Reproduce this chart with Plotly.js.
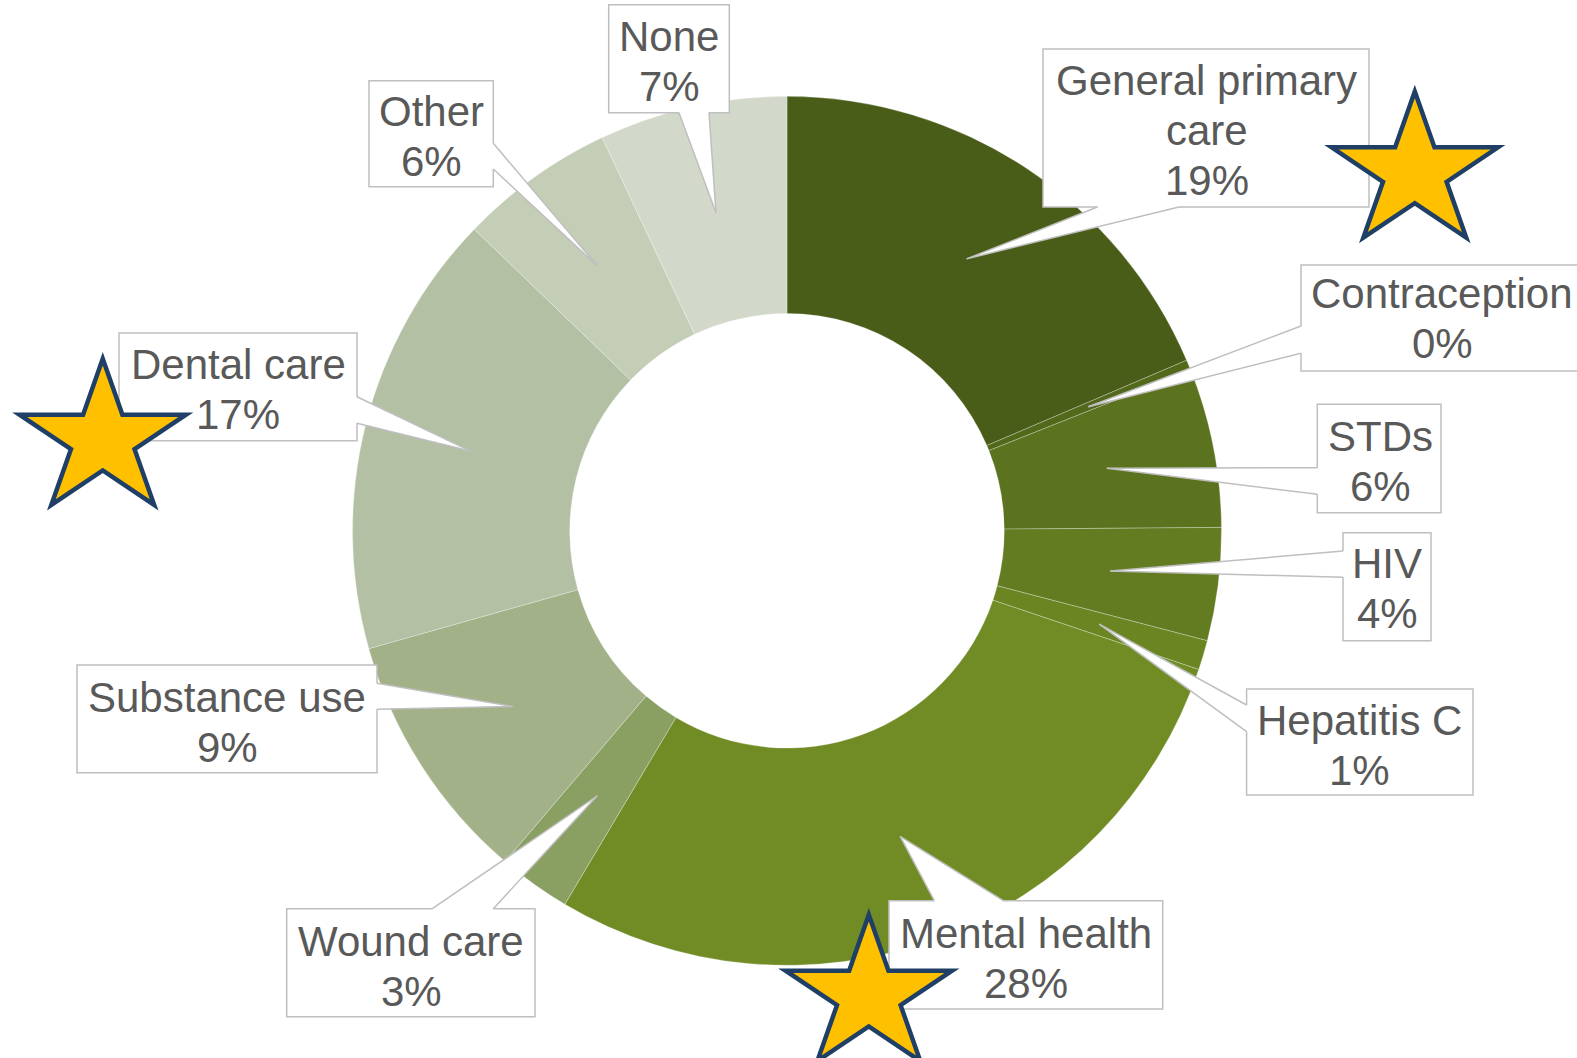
<!DOCTYPE html>
<html>
<head>
<meta charset="utf-8">
<script src="https://cdn.plot.ly/plotly-3.0.1.min.js"></script>
<style>
html,body{margin:0;padding:0;background:#ffffff;overflow:hidden}
#chart{width:1577px;height:1058px}
</style>
</head>
<body>
<div id="chart"></div>
<script>
// ---------- data ----------
const categories = ['General primary care','Contraception','STDs','HIV','Hepatitis C','Mental health','Wound care','Substance use','Dental care','Other','None'];
const shares = [18.6, 0.4, 5.9, 4.2, 1.1, 28.4, 2.7, 9.4, 16.6, 5.8, 7.0];
const sliceColors = ['#4a5d18','#52691b','#5b721f','#637b21','#6b8523','#718c25','#8a9f62','#a2b188','#b3c0a3','#c4cdb5','#d2d9ca'];
const starredCategories = ['General primary care','Dental care','Mental health'];

// ---------- layout geometry (pixels) ----------
const W = 1577, H = 1058;
const CX = 787, CY = 530.8, R = 434.5, HOLE = 0.5;
const FONT = 42, LINE = 50;

// label box [x0,y0,x1,y1], side where the pointer leaves, span of pointer base, text centre x, first baseline
const callouts = {
  'General primary care': {box:[1043,49,1369,207],   side:'bottom', span:[1097.5,1179], cx:1206.5, base:95,    wrap:true},
  'Contraception':        {box:[1301,265,1600,371],  side:'left',   span:[326,353.3],   cx:1442,   base:308.3},
  'STDs':                 {box:[1317.3,404.3,1441,512.7], side:'left', span:[467.7,494.3], cx:1380, base:451},
  'HIV':                  {box:[1343,532.7,1431,640.7],   side:'left', span:[551,577.3],   cx:1387, base:578.3},
  'Hepatitis C':          {box:[1246.6,689,1473,795],     side:'left', span:[705,731.7],   cx:1359.5, base:735},
  'Mental health':        {box:[889,900.7,1162.7,1009],   side:'top',  span:[934.3,1003.3], cx:1026, base:947.7},
  'Wound care':           {box:[286.7,908.7,535,1016.7],  side:'top',  span:[432.3,493.3],  cx:411,  base:955.7},
  'Substance use':        {box:[77,665,377,772.7],        side:'right', span:[683.3,709.3], cx:227,  base:711.7},
  'Dental care':          {box:[119,333,357,440.7],       side:'right', span:[396.7,423.3], cx:238,  base:379.3},
  'Other':                {box:[369,80.7,493.3,186.7],    side:'right', span:[143.3,169],   cx:431,  base:125.7},
  'None':                 {box:[608.7,4.7,729.3,112.7],   side:'bottom', span:[679,709],    cx:669,  base:50.7}
};
const stars = {
  'General primary care': {cx:1414.8, cy:172.3},
  'Dental care':          {cx:102.75, cy:439.6},
  'Mental health':        {cx:868.8,  cy:995.6}
};
const STAR_RX = 87.5, STAR_RY = 80.8;

const fx = x => x / W;
const fy = y => 1 - y / H;

const total = shares.reduce((a, b) => a + b, 0);
const shapes = [];
const annotations = [];
const BORDER = '#bfbfbf';
const TEXTC = '#595959';
const FONTFAM = 'Liberation Sans, Arial, sans-serif';

let cum = 0;
categories.forEach((cat, i) => {
  const v = shares[i];
  const a0 = cum / total * 360, a1 = (cum + v) / total * 360;
  cum += v;
  const mid = (a0 + a1) / 2 * Math.PI / 180;
  const rm = R * (1 + HOLE) / 2;
  const tip = [CX + rm * Math.sin(mid), CY - rm * Math.cos(mid)];
  const c = callouts[cat];
  const [x0, y0, x1, y1] = c.box;
  // box
  shapes.push({type:'rect', xref:'paper', yref:'paper', layer:'above',
    x0:fx(x0), x1:fx(x1), y0:fy(y0), y1:fy(y1),
    fillcolor:'#ffffff', line:{color:BORDER, width:1.5}});
  // pointer base points
  let b1, b2, i1, i2;
  const ins = 2.5;
  if (c.side === 'bottom') { b1=[c.span[0],y1]; b2=[c.span[1],y1]; i1=[c.span[0]+0.8,y1-ins]; i2=[c.span[1]-0.8,y1-ins]; }
  if (c.side === 'top')    { b1=[c.span[0],y0]; b2=[c.span[1],y0]; i1=[c.span[0]+0.8,y0+ins]; i2=[c.span[1]-0.8,y0+ins]; }
  if (c.side === 'left')   { b1=[x0,c.span[0]]; b2=[x0,c.span[1]]; i1=[x0+ins,c.span[0]+0.8]; i2=[x0+ins,c.span[1]-0.8]; }
  if (c.side === 'right')  { b1=[x1,c.span[0]]; b2=[x1,c.span[1]]; i1=[x1-ins,c.span[0]+0.8]; i2=[x1-ins,c.span[1]-0.8]; }
  const p = pt => fx(pt[0]) + ',' + fy(pt[1]);
  shapes.push({type:'path', xref:'paper', yref:'paper', layer:'above',
    path:'M' + p(i1) + ' L' + p(b1) + ' L' + p(tip) + ' L' + p(b2) + ' L' + p(i2) + ' Z',
    fillcolor:'#ffffff', line:{width:0}});
  [b1, b2].forEach(b => shapes.push({type:'line', xref:'paper', yref:'paper', layer:'above',
    x0:fx(b[0]), y0:fy(b[1]), x1:fx(tip[0]), y1:fy(tip[1]),
    line:{color:BORDER, width:1.5}}));
  // text lines
  let lines = [cat];
  if (c.wrap) { const k = cat.lastIndexOf(' '); lines = [cat.slice(0, k), cat.slice(k + 1)]; }
  lines.push(Math.round(v / total * 100) + '%');
  lines.forEach((t, j) => {
    const baseline = c.base + j * LINE;
    annotations.push({xref:'paper', yref:'paper', x:fx(c.cx), y:fy(baseline - 0.3465 * FONT),
      xanchor:'center', yanchor:'middle', showarrow:false, text:t,
      font:{family:FONTFAM, size:FONT, color:TEXTC}});
  });
});

// stars
function starPath(cx, cy) {
  const pts = [];
  for (let k = 0; k < 10; k++) {
    const a = k * 36 * Math.PI / 180;
    const r = (k % 2 === 0) ? 1 : 0.382;
    pts.push(fx(cx + STAR_RX * r * Math.sin(a)) + ',' + fy(cy - STAR_RY * r * Math.cos(a)));
  }
  return 'M' + pts.join(' L') + ' Z';
}
starredCategories.forEach(cat => {
  const s = stars[cat];
  shapes.push({type:'path', xref:'paper', yref:'paper', layer:'above',
    path:starPath(s.cx, s.cy), fillcolor:'#ffc000', line:{color:'#1f3f66', width:4.5}});
});

const trace = {
  type:'pie',
  labels:categories,
  values:shares,
  sort:false,
  direction:'clockwise',
  rotation:0,
  hole:HOLE,
  textinfo:'none',
  hoverinfo:'label+percent',
  marker:{colors:sliceColors, line:{color:'rgba(255,255,255,0.35)', width:0.8}},
  domain:{x:[(CX - R) / W, (CX + R) / W], y:[1 - (CY + R) / H, 1 - (CY - R) / H]},
  showlegend:false
};

const layout = {
  width:W, height:H,
  margin:{l:0, r:0, t:0, b:0},
  paper_bgcolor:'#ffffff',
  plot_bgcolor:'#ffffff',
  showlegend:false,
  shapes:shapes,
  annotations:annotations
};

Plotly.newPlot('chart', [trace], layout, {displayModeBar:false, staticPlot:true});
</script>
</body>
</html>
